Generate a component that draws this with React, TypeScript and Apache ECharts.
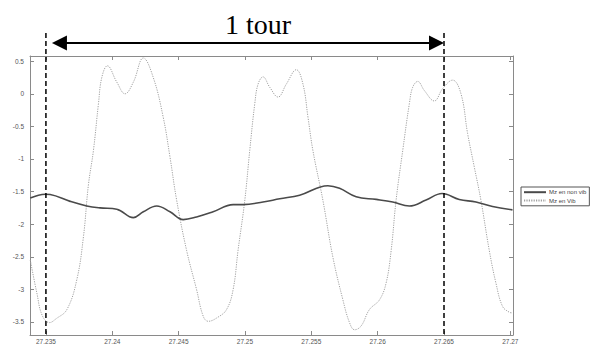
import React, { useEffect, useRef } from "react";
import * as echarts from "echarts";

const seriesNames = ["Mz en non vib", "Mz en Vib"];

const nonVibX = [
  27.23382, 27.23495, 27.23532, 27.23683, 27.23808, 27.23908, 27.24034, 27.24159,
  27.24234, 27.24335, 27.24435, 27.24535, 27.24635, 27.2476, 27.24911, 27.24986,
  27.25136, 27.25262, 27.25412, 27.25625, 27.25713, 27.25838, 27.25989, 27.26114,
  27.26239, 27.26365, 27.26485, 27.26615, 27.26741, 27.26866, 27.27016,
];
const nonVibY = [
  -1.6, -1.54, -1.545, -1.65, -1.72, -1.75, -1.77, -1.9,
  -1.81, -1.72, -1.81, -1.93, -1.89, -1.81, -1.7, -1.7,
  -1.66, -1.61, -1.555, -1.41, -1.45, -1.58, -1.62, -1.66,
  -1.72, -1.63, -1.53, -1.62, -1.66, -1.73, -1.78,
];

const vibX = [
  27.23382, 27.23432, 27.23472, 27.23527, 27.23577, 27.23658, 27.23733, 27.23783,
  27.2382, 27.23858, 27.23896, 27.23921, 27.23963, 27.24034, 27.24096, 27.24159,
  27.24234, 27.24309, 27.24384, 27.24435, 27.24485, 27.2456, 27.24635, 27.24685,
  27.24723, 27.24786, 27.24861, 27.24911, 27.24948, 27.24999, 27.25036, 27.25074,
  27.25099, 27.25136, 27.25187, 27.25249, 27.25312, 27.25387, 27.25437, 27.25475,
  27.25512, 27.25587, 27.25662, 27.25738, 27.25788, 27.25826, 27.25876, 27.25938,
  27.26014, 27.26064, 27.26102, 27.26139, 27.26189, 27.26239, 27.26264, 27.26302,
  27.26352, 27.26427, 27.2649, 27.26565, 27.26628, 27.26678, 27.26728, 27.26778,
  27.26841, 27.26891, 27.26941, 27.26991, 27.27011,
];
const vibY = [
  -2.55, -3.06, -3.4, -3.51, -3.45, -3.31, -2.85, -2.19,
  -1.4, -0.87, -0.15, 0.25, 0.43, 0.18, 0.0, 0.18,
  0.55, 0.25, -0.36, -0.97, -1.63, -2.4, -3.0, -3.41,
  -3.49, -3.44, -3.31, -3.0, -2.4, -1.63, -0.87, -0.15,
  0.15, 0.26, 0.1, -0.05, 0.15, 0.37, 0.15, -0.36,
  -0.87, -1.63, -2.5, -3.16, -3.51, -3.62, -3.56, -3.31,
  -3.16, -2.9, -2.4, -1.63, -0.87, -0.15, 0.1, 0.19,
  0.05, -0.11, 0.08, 0.21, 0.0, -0.61, -1.12, -1.63,
  -2.4, -2.9, -3.26, -3.35, -3.36,
];

const xTicks = [27.235, 27.24, 27.245, 27.25, 27.255, 27.26, 27.265, 27.27];
const yTicks = [-3.5, -3, -2.5, -2, -1.5, -1, -0.5, 0, 0.5];
const xRange = [27.2338, 27.2702];
const yRange = [-3.7, 0.58];
const tourStart = 27.235;
const tourEnd = 27.265;
const annotationText = "1 tour";

export default function App() {
  const ref = useRef<HTMLDivElement>(null);
  useEffect(() => {
    const chart = echarts.init(ref.current!, null, { renderer: "svg" });
    const axisColor = "#8a8a8a";
    const labelStyle = { fontSize: 6.5, color: "#555", fontFamily: "Liberation Sans" };
    const fmt = (v: number) => String(Number(v.toFixed(4)));
    const baseX = {
      type: "value",
      min: xRange[0],
      max: xRange[1],
      axisLine: { show: true, onZero: false, lineStyle: { color: axisColor, width: 1 } },
      splitLine: { show: false },
    };
    const baseY = {
      type: "value",
      min: yRange[0],
      max: yRange[1],
      axisLine: { show: true, onZero: false, lineStyle: { color: axisColor, width: 1 } },
      splitLine: { show: false },
    };
    chart.setOption({
      animation: false,
      backgroundColor: "#fff",
      grid: { left: 30, right: 84, top: 56, bottom: 9, containLabel: false },
      legend: {
        orient: "vertical",
        left: 521,
        top: 187,
        itemWidth: 22,
        itemHeight: 8,
        itemGap: 2,
        padding: [2, 3, 2, 2],
        borderWidth: 1,
        borderColor: "#555",
        backgroundColor: "#fff",
        itemStyle: { opacity: 0 },
        textStyle: { fontSize: 6, color: "#444", fontFamily: "Liberation Sans", padding: [0, 0, 0, -2] },
        data: seriesNames,
      },
      xAxis: [
        {
          ...baseX,
          position: "bottom",
          axisTick: { show: true, inside: true, length: 4, customValues: xTicks, lineStyle: { color: axisColor } },
          axisLabel: { show: true, customValues: xTicks, formatter: fmt, margin: 3, ...labelStyle },
        },
        {
          ...baseX,
          position: "top",
          axisTick: { show: true, inside: true, length: 4, customValues: xTicks, lineStyle: { color: axisColor } },
          axisLabel: { show: false },
        },
      ],
      yAxis: [
        {
          ...baseY,
          position: "left",
          axisTick: { show: true, inside: true, length: 4, customValues: yTicks, lineStyle: { color: axisColor } },
          axisLabel: { show: true, customValues: yTicks, formatter: fmt, margin: 6, ...labelStyle },
        },
        {
          ...baseY,
          position: "right",
          axisTick: { show: true, inside: true, length: 4, customValues: yTicks, lineStyle: { color: axisColor } },
          axisLabel: { show: false },
        },
      ],
      series: [
        {
          name: seriesNames[0],
          type: "line",
          xAxisIndex: 0,
          yAxisIndex: 0,
          data: nonVibX.map((x, i) => [x, nonVibY[i]]),
          smooth: 0.4,
          symbol: "none",
          color: "#4a4a4a",
          lineStyle: { color: "#4a4a4a", width: 1.6 },
          z: 3,
        },
        {
          name: seriesNames[1],
          type: "line",
          xAxisIndex: 0,
          yAxisIndex: 0,
          data: vibX.map((x, i) => [x, vibY[i]]),
          smooth: 0.4,
          symbol: "none",
          color: "#9a9a9a",
          lineStyle: { color: "#a0a0a0", width: 1, type: [1.2, 1.2] },
          z: 2,
        },
      ],
    });

    const pA = chart.convertToPixel({ gridIndex: 0 }, [tourStart, yRange[0]]) as number[];
    const pB = chart.convertToPixel({ gridIndex: 0 }, [tourEnd, yRange[0]]) as number[];
    const xa = pA[0];
    const xb = pB[0];
    const yBottom = pA[1];
    const yTopDash = 33;
    const yArrow = 43;
    const headL = 15;
    const headH = 7.5;
    chart.setOption({
      graphic: [
        {
          type: "line",
          shape: { x1: xa, y1: yTopDash, x2: xa, y2: yBottom },
          style: { stroke: "#000", lineWidth: 1.5, lineDash: [5, 3] },
          z: 10,
        },
        {
          type: "line",
          shape: { x1: xb, y1: yTopDash, x2: xb, y2: yBottom },
          style: { stroke: "#000", lineWidth: 1.5, lineDash: [5, 3] },
          z: 10,
        },
        {
          type: "line",
          shape: { x1: xa + 12, y1: yArrow, x2: xb - 6, y2: yArrow },
          style: { stroke: "#000", lineWidth: 2.2 },
          z: 10,
        },
        {
          type: "polygon",
          shape: { points: [[xa + 6, yArrow], [xa + 6 + headL, yArrow - headH], [xa + 6 + headL, yArrow + headH]] },
          style: { fill: "#000" },
          z: 10,
        },
        {
          type: "polygon",
          shape: { points: [[xb, yArrow], [xb - headL, yArrow - headH], [xb - headL, yArrow + headH]] },
          style: { fill: "#000" },
          z: 10,
        },
        {
          type: "text",
          x: (xa + xb) / 2 + 13,
          y: 38,
          style: {
            text: annotationText,
            fontSize: 28,
            fontFamily: "Liberation Serif",
            fill: "#000",
            align: "center",
            verticalAlign: "bottom",
          },
          z: 10,
        },
      ],
    });
    return () => chart.dispose();
  }, []);
  return <div ref={ref} style={{ position: "fixed", left: 0, top: 0, width: 597, height: 345 }} />;
}
